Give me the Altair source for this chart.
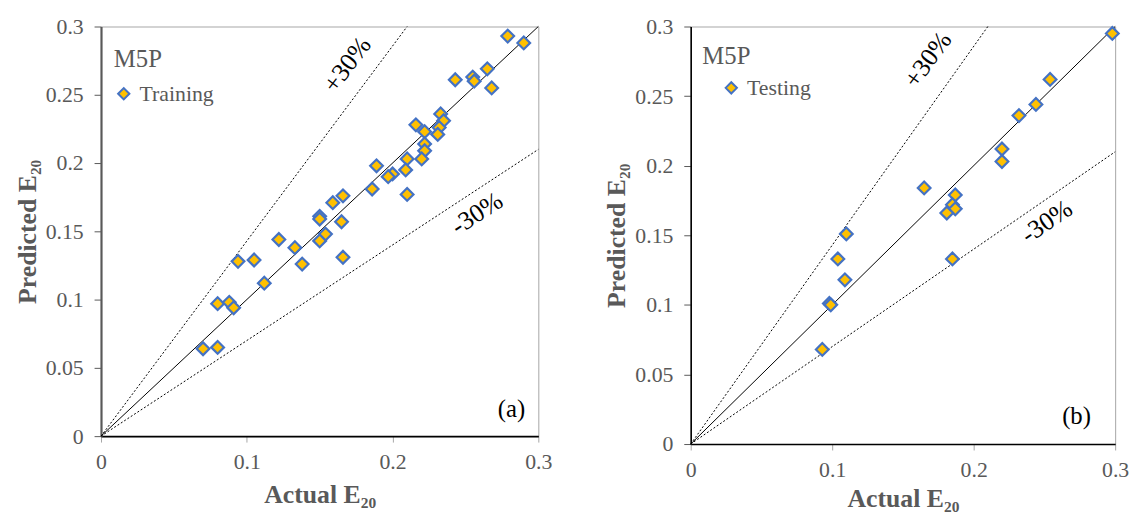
import altair as alt
import pandas as pd

# ---- data ----
train_actual = [0.279, 0.290, 0.243, 0.255, 0.256, 0.265, 0.268, 0.233, 0.235, 0.232,
                0.231, 0.216, 0.222, 0.222, 0.222, 0.220, 0.210, 0.209, 0.210, 0.189,
                0.186, 0.200, 0.197, 0.166, 0.159, 0.150, 0.150, 0.154, 0.150, 0.165,
                0.166, 0.122, 0.133, 0.094, 0.105, 0.112, 0.138, 0.080, 0.088, 0.091,
                0.070, 0.080]
train_pred = [0.293, 0.288, 0.261, 0.263, 0.260, 0.269, 0.255, 0.236, 0.231, 0.226,
              0.221, 0.228, 0.223, 0.214, 0.209, 0.203, 0.203, 0.195, 0.177, 0.198,
              0.181, 0.192, 0.190, 0.176, 0.171, 0.161, 0.159, 0.148, 0.143, 0.157,
              0.131, 0.144, 0.138, 0.128, 0.129, 0.112, 0.126, 0.097, 0.098, 0.094,
              0.064, 0.065]

test_actual = [0.298, 0.254, 0.244, 0.232, 0.220, 0.220, 0.165, 0.187, 0.185, 0.187,
               0.181, 0.185, 0.110, 0.104, 0.109, 0.098, 0.099, 0.093]
test_pred = [0.295, 0.262, 0.244, 0.236, 0.212, 0.203, 0.184, 0.179, 0.172, 0.169,
             0.166, 0.133, 0.151, 0.133, 0.118, 0.101, 0.100, 0.068]

ref_kind = ["1:1", "+30%", "-30%"]
ref_x2 = [0.3, 0.21, 0.3]
ref_y2 = [0.3, 0.3, 0.21]

tick_x = [0, 0.1, 0.2, 0.3]
tick_y = [0, 0.05, 0.1, 0.15, 0.2, 0.25, 0.3]

SERIF = "Liberation Serif"
GREY = "#595959"


def panel(actual, pred, series, tag, ann, w, h, ydom_color, ydom_width):
    pts = pd.DataFrame({"actual": actual, "pred": pred, "series": series})
    refs = pd.DataFrame({"kind": ref_kind, "x0": [0, 0, 0], "y0": [0, 0, 0],
                         "x1": ref_x2, "y1": ref_y2})
    xs = alt.Scale(domain=[0, 0.3], nice=False, zero=True)
    ys = alt.Scale(domain=[0, 0.3], nice=False, zero=True)
    xaxis = alt.Axis(values=tick_x, format="~g", title="Actual E₂₀", grid=False,
                     labelFlush=False,
                     domainColor="black", domainWidth=1.6, tickColor="#a6a6a6",
                     tickSize=6, labelPadding=10, titlePadding=ann["xtp"],
                     labelFont=SERIF, labelFontSize=22, labelColor=GREY,
                     titleFont=SERIF, titleFontSize=26, titleFontWeight="bold",
                     titleColor=GREY)
    yaxis = alt.Axis(values=tick_y, format="~g", title="Predicted E₂₀", grid=False,
                     domainColor=ydom_color, domainWidth=ydom_width, tickColor=GREY,
                     tickSize=7, labelPadding=11, titlePadding=5,
                     labelFont=SERIF, labelFontSize=22, labelColor=GREY,
                     titleFont=SERIF, titleFontSize=26, titleFontWeight="bold",
                     titleColor=GREY)

    base_rule = alt.Chart(refs).encode(
        x=alt.X("x0:Q", scale=xs, axis=xaxis),
        y=alt.Y("y0:Q", scale=ys, axis=yaxis),
        x2="x1:Q", y2="y1:Q",
    )
    solid = base_rule.transform_filter(alt.datum.kind == "1:1").mark_rule(
        color="black", strokeWidth=1)
    dashed = base_rule.transform_filter(alt.datum.kind != "1:1").mark_rule(
        color="black", strokeWidth=1, strokeDash=[2, 2])

    points = alt.Chart(pts).mark_point(
        shape="diamond", filled=True, size=165, stroke="#4472C4", strokeWidth=2.2,
        opacity=1,
    ).encode(
        x=alt.X("actual:Q", scale=xs),
        y=alt.Y("pred:Q", scale=ys),
        color=alt.Color("series:N",
                        scale=alt.Scale(domain=[series], range=["#FFC000"]),
                        legend=alt.Legend(title=None, orient="none",
                                          legendX=ann["legx"], legendY=ann["legy"],
                                          symbolType="diamond", symbolSize=130,
                                          symbolStrokeColor="#4472C4",
                                          symbolStrokeWidth=2, symbolFillColor="#FFC000",
                                          labelFont=SERIF, labelFontSize=22,
                                          labelColor=GREY, labelOffset=5, padding=0)),
    )

    def txt(text, x, y, size, color, angle=0, align="left", baseline="alphabetic"):
        d = pd.DataFrame({"t": [text], "x": [x], "y": [y]})
        kw = dict(font=SERIF, fontSize=size, color=color, align=align,
                  baseline=baseline)
        if angle:
            kw["angle"] = angle
        return alt.Chart(d).mark_text(**kw).encode(
            x=alt.X("x:Q", scale=xs), y=alt.Y("y:Q", scale=ys), text="t:N")

    m5p = txt("M5P", ann["m5p"][0], ann["m5p"][1], 25, GREY)
    plus = txt("+30%", ann["plus"][0], ann["plus"][1], 26, "black",
               angle=ann["plus_ang"], align="center", baseline="middle")
    minus = txt("-30%", ann["minus"][0], ann["minus"][1], 26, "black",
                angle=ann["minus_ang"], align="center", baseline="middle")
    label = txt(tag, ann["tag"][0], ann["tag"][1], 25, "black",
                align="center", baseline="middle")

    return alt.layer(solid, dashed, points, m5p, plus, minus, label).properties(
        width=w, height=h)


left = panel(train_actual, train_pred, "Training", "(a)",
             {"legx": 12, "legy": 57, "m5p": (0.0088, 0.270),
              "plus": (0.169, 0.272), "plus_ang": 307,
              "minus": (0.258, 0.163), "minus_ang": 327,
              "tag": (0.2816, 0.0196), "xtp": 9},
             442, 414, GREY, 2.2)
right = panel(test_actual, test_pred, "Testing", "(b)",
              {"legx": 30, "legy": 51, "m5p": (0.0082, 0.2732),
               "plus": (0.1677, 0.276), "plus_ang": 306,
               "minus": (0.2517, 0.1597), "minus_ang": 326,
               "tag": (0.2727, 0.0204), "xtp": 5},
              429, 422, "black", 1.6)

chart = alt.hconcat(left, right, spacing=51).resolve_scale(
    color="independent").resolve_legend(color="independent").properties(
    padding={"top": 4, "left": 6, "right": 0, "bottom": 0}
).configure_view(stroke="#a6a6a6", strokeWidth=1)

chart.save("out.html", embed_options={"renderer": "svg", "actions": False})
